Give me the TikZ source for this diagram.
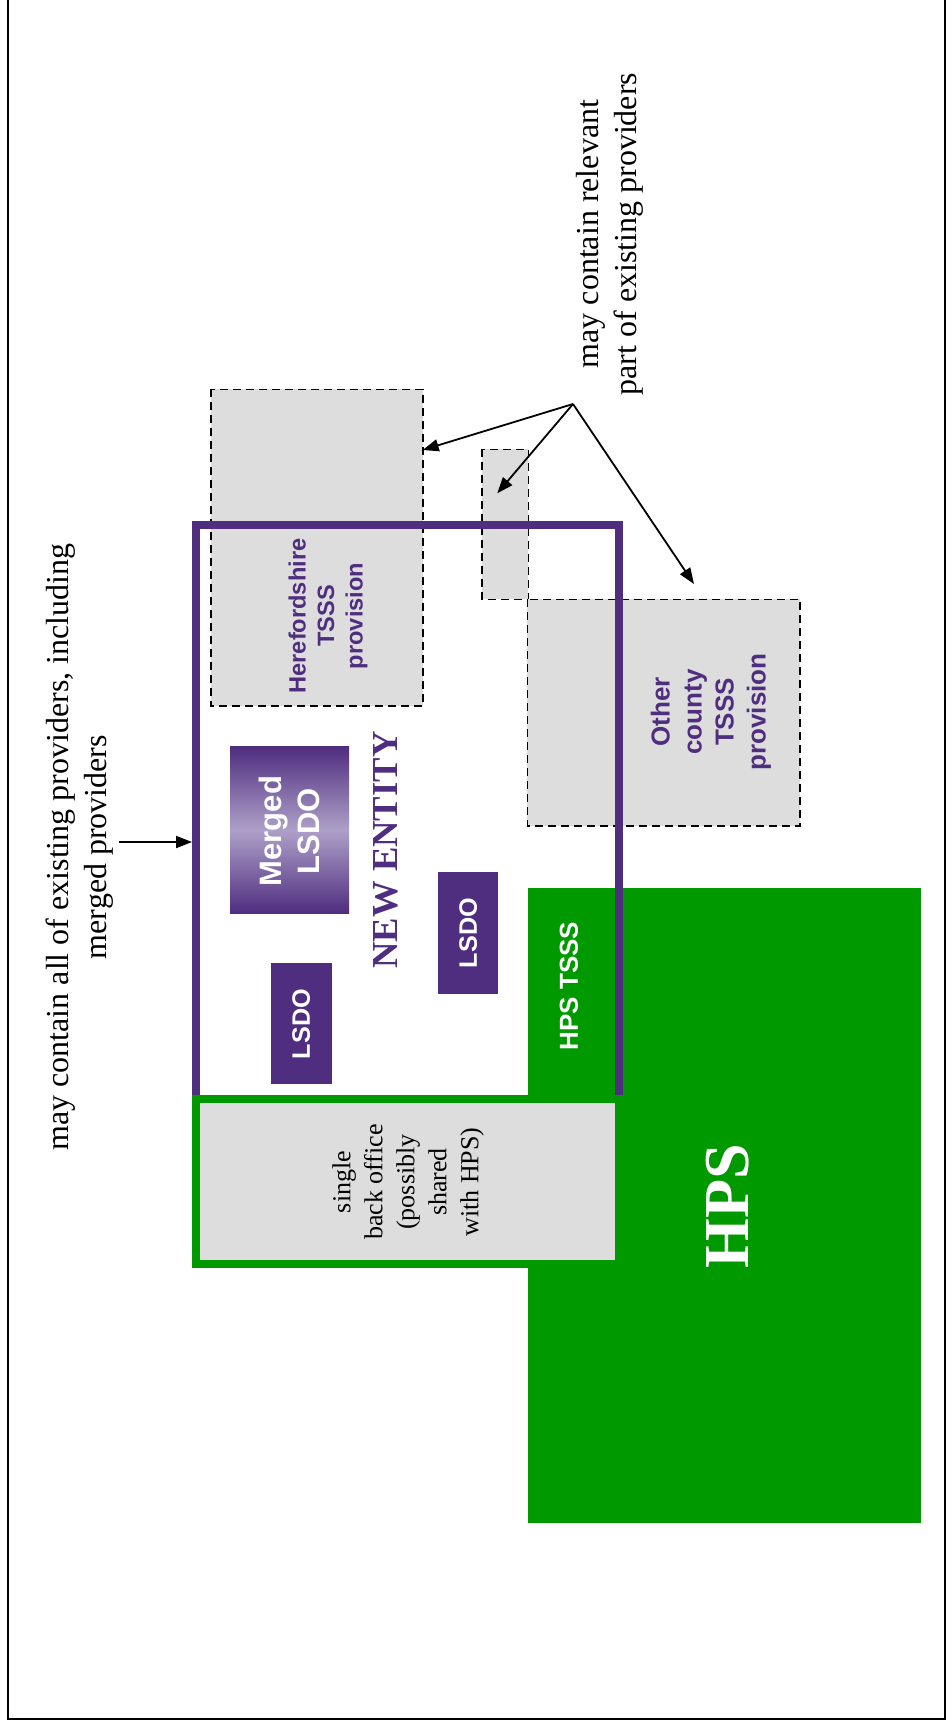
\documentclass[tikz,border=0pt]{standalone}
\usepackage{fontspec}
\setmainfont{Liberation Serif}
\setsansfont{Liberation Sans}
\usetikzlibrary{arrows.meta}
\definecolor{entity}{HTML}{4F2D7F}
\definecolor{lilac}{HTML}{ADA0C8}
\definecolor{hpsgreen}{HTML}{009900}
\definecolor{office}{HTML}{DDDDDD}

\begin{document}
\begin{tikzpicture}[x=0.5pt,y=-0.5pt,
    provbox/.style={fill=office,draw=black,line width=0.8pt,dash pattern=on 4pt off 2.5pt},
    note/.style={rotate=90,align=center,font=\fontsize{16}{19}\selectfont},
    provtext/.style n args={2}{rotate=90,align=center,text=entity,font=\sffamily\bfseries\fontsize{#1}{#2}\selectfont},
    whitetext/.style n args={2}{rotate=90,align=center,text=white,font=\sffamily\bfseries\fontsize{#1}{#2}\selectfont},
    pointer/.style={-{Triangle[length=8pt,width=6pt]},line width=0.9pt}]
  \useasboundingbox (0,0) rectangle (946,1726);
  \draw[line width=1.1pt] (8,0) -- (8,1719) -- (945,1719) -- (945,0);

  % existing providers
  \draw[provbox] (210.7,389.3) rectangle (422.7,706);
  \draw[provbox] (481.7,449.3) rectangle (528.3,599.3);
  \draw[provbox] (527.3,599.3) rectangle (800,825.7);

  \fill[hpsgreen] (527.5,887.5) rectangle (921,1523);
  \draw[entity,line width=4pt] (196,525) rectangle (619,1099);
  \draw[hpsgreen,fill=office,line width=4pt] (196,1099) rectangle (619,1264);

  % LSDOs
  \shade[top color=entity,bottom color=entity,middle color=lilac] (230,746.7) rectangle (349,913.3);
  \fill[entity] (270.7,963.3) rectangle (331.7,1084.3);
  \fill[entity] (438.3,872.3) rectangle (498.3,994.3);

  \node[provtext={11.8}{14.2}] (hereford) at (328,616) {Herefordshire\\TSSS\\provision};
  \node[provtext={13}{16}] (othercounty) at (711,712) {Other\\county\\TSSS\\provision};
  \node[whitetext={15.5}{19}] (merged) at (289.5,831) {Merged\\LSDO};
  \node[whitetext={12.6}{15}] (lsdoA) at (301.2,1024) {LSDO};
  \node[whitetext={12.6}{15}] (lsdoB) at (468.3,933) {LSDO};
  \node[whitetext={13}{16}] (hpstsss) at (569,986) {HPS TSSS};
  \node[rotate=90,text=entity,font=\bfseries\fontsize{18.3}{22}\selectfont] (newentity) at (386,850) {NEW ENTITY};
  \node[rotate=90,text=white,font=\bfseries\fontsize{32}{38}\selectfont] (hps) at (728,1206) {HPS};
  \node[rotate=90,align=center,font=\fontsize{13}{16}\selectfont] (backoffice) at (408,1182)
    {single\\back office\\(possibly\\shared\\with HPS)};

  % notes and pointers
  \node[note] (allnote) at (80,847) {may contain all of existing providers, including\\merged providers};
  \node[note] (partnote) at (610,234) {may contain relevant\\part of existing providers};
  \coordinate (alltail) at (119,842);
  \coordinate (framehit) at (192,842);
  \coordinate (apex) at (573,404);
  \coordinate (herefordhit) at (422.7,450);
  \coordinate (smallhit) at (497.3,493.3);
  \coordinate (otherhit) at (694,584);
  \draw[pointer] (alltail) -- (framehit);
  \draw[pointer] (apex) -- (herefordhit);
  \draw[pointer] (apex) -- (smallhit);
  \draw[pointer] (apex) -- (otherhit);
\end{tikzpicture}
\end{document}
